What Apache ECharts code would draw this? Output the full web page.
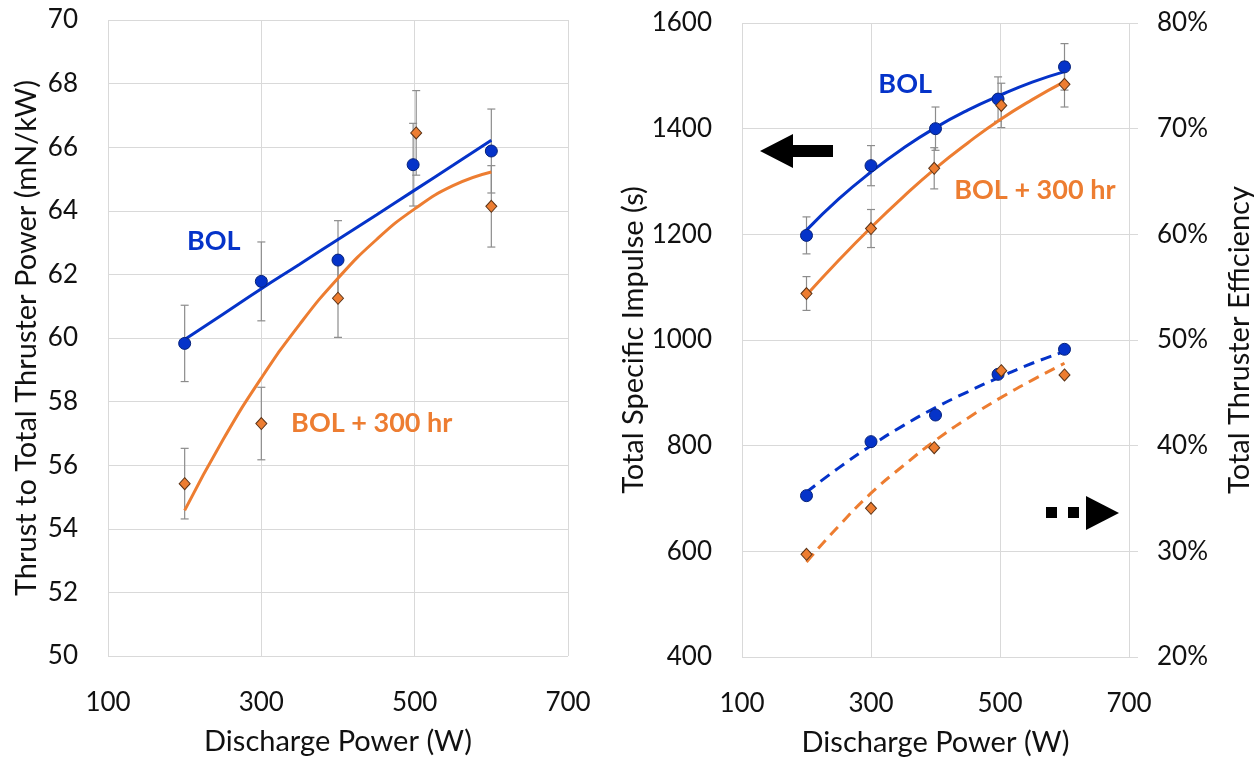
<!DOCTYPE html>
<html>
<head>
<meta charset="utf-8">
<script src="https://cdn.jsdelivr.net/npm/echarts@6/dist/echarts.min.js"></script>
<style>
html,body{margin:0;padding:0;background:#fff;}
#chart{width:1258px;height:757px;}
</style>
</head>
<body>
<div id="chart"></div>
<script>
// ---------- Data ----------
const xTicks = [100, 300, 500, 700];
const trendPower = [200, 250, 300, 350, 400, 450, 500, 550, 600];

// Left panel: thrust to total thruster power (mN/kW)
const powerBOL = [200, 300, 400, 498, 600];
const powerAged = [200, 300, 400, 502, 600];
const thrustBOL = [59.83, 61.78, 62.45, 65.45, 65.88];
const thrustBOLErr = [1.2, 1.24, 1.24, 1.3, 1.32];
const thrustAged = [55.42, 57.31, 61.25, 66.45, 64.14];
const thrustAgedErr = [1.11, 1.14, 1.23, 1.33, 1.28];
const thrustBOLTrend = [59.95, 60.75, 61.55, 62.32, 63.1, 63.87, 64.65, 65.43, 66.22];
const thrustAgedTrend = [54.58, 56.8, 58.74, 60.43, 61.88, 63.09, 64.06, 64.79, 65.22];

// Right panel: total specific impulse (s)
const powerIspBOL = [200, 300, 400, 497, 600];
const powerIspAged = [200, 300, 398, 502, 600];
const ispBOL = [1198, 1330, 1400, 1456, 1517];
const ispBOLErr = [35, 38, 41, 42, 44];
const ispAged = [1088, 1211, 1325, 1444, 1484];
const ispAgedErr = [32, 36, 39, 42, 43];
const ispBOLTrend = [1208, 1267, 1318, 1363, 1402, 1435, 1463, 1488, 1508];
const ispAgedTrend = [1085, 1151, 1213, 1271, 1325, 1373, 1417, 1455, 1489];

// Right panel: total thruster efficiency (%)
const effBOL = [35.27, 40.38, 42.9, 46.75, 49.12];
const effAged = [29.72, 34.07, 39.81, 47.1, 46.69];
const effBOLTrend = [35.6, 37.9, 40.0, 41.9, 43.6, 45.1, 46.5, 47.8, 48.9];
const effAgedTrend = [29.0, 32.4, 35.5, 38.1, 40.5, 42.6, 44.5, 46.2, 47.8];

// ---------- Styling ----------
const BLUE = '#0533c9';
const ORANGE = '#ed7d31';
const GRID = '#d9d9d9';
const FONT = 'Lato';
const TXT = '#111';

const zip = (xs, ys) => xs.map((x, i) => [x, ys[i]]);
const zipErr = (xs, ys, es) => xs.map((x, i) => [x, ys[i], es[i]]);

function errorBars(xIdx, yIdx, data) {
  return {
    type: 'custom', xAxisIndex: xIdx, yAxisIndex: yIdx, z: 1, silent: true,
    renderItem: function (params, api) {
      const x = api.value(0), y = api.value(1), e = api.value(2);
      const top = api.coord([x, y + e]);
      const bot = api.coord([x, y - e]);
      const cap = 4;
      const st = { stroke: '#8c8c8c', lineWidth: 1.2 };
      return { type: 'group', children: [
        { type: 'line', shape: { x1: top[0], y1: top[1], x2: bot[0], y2: bot[1] }, style: st },
        { type: 'line', shape: { x1: top[0] - cap, y1: top[1], x2: top[0] + cap, y2: top[1] }, style: st },
        { type: 'line', shape: { x1: bot[0] - cap, y1: bot[1], x2: bot[0] + cap, y2: bot[1] }, style: st }
      ]};
    },
    encode: { x: 0, y: 1 },
    data: data
  };
}
function trend(xIdx, yIdx, ys, color, dashed) {
  return {
    type: 'line', xAxisIndex: xIdx, yAxisIndex: yIdx, z: 2, silent: true,
    data: zip(trendPower, ys), smooth: 0.5, showSymbol: false, symbol: 'none',
    lineStyle: { color: color, width: 3, type: dashed ? [11, 7] : 'solid', cap: 'butt', opacity: 1 }
  };
}
function pts(xIdx, yIdx, xs, ys, kind) {
  const blue = kind === 'blue';
  return {
    type: 'scatter', xAxisIndex: xIdx, yAxisIndex: yIdx, z: 5, silent: true,
    symbol: blue ? 'circle' : 'diamond', symbolSize: blue ? 12 : [11, 12],
    itemStyle: blue ? { color: BLUE, borderColor: '#06227a', borderWidth: 1, opacity: 1 }
                    : { color: ORANGE, borderColor: '#5b3317', borderWidth: 1, opacity: 1 },
    data: zip(xs, ys)
  };
}
function note(xIdx, yIdx, x, y, text, color) {
  return {
    type: 'scatter', xAxisIndex: xIdx, yAxisIndex: yIdx, z: 6, silent: true,
    symbol: 'circle', symbolSize: 1, itemStyle: { color: 'rgba(0,0,0,0)', opacity: 1 },
    label: { show: true, position: 'inside', formatter: text, color: color, opacity: 1,
             fontFamily: FONT, fontWeight: 'bold', fontSize: 27 },
    data: [[x, y]]
  };
}

const axisLabel = { fontFamily: FONT, fontSize: 26, color: TXT };
const nameStyle = { fontFamily: FONT, fontSize: 29, color: TXT };
const split = { show: true, lineStyle: { color: GRID, width: 1 } };

function xAxisFor(gridIndex) {
  return {
    type: 'value', gridIndex: gridIndex, min: 100, max: 700, interval: 200,
    name: 'Discharge Power (W)', nameLocation: 'middle', nameGap: 71, nameTextStyle: nameStyle,
    axisLine: { show: false }, axisTick: { show: false },
    axisLabel: Object.assign({ margin: 34, customValues: xTicks }, axisLabel),
    splitLine: split
  };
}

const chart = echarts.init(document.getElementById('chart'), null, { renderer: 'canvas' });
chart.setOption({
  backgroundColor: '#fff',
  animation: false,
  grid: [
    { left: 108, top: 20, width: 460, height: 636, containLabel: false, outerBoundsMode: 'none' },
    { left: 742, top: 23, width: 387, height: 634, containLabel: false, outerBoundsMode: 'none' }
  ],
  xAxis: [xAxisFor(0), xAxisFor(1)],
  yAxis: [
    { type: 'value', gridIndex: 0, min: 50, max: 70, interval: 2,
      name: 'Thrust to Total Thruster Power (mN/kW)', nameLocation: 'middle', nameGap: 67, nameTextStyle: nameStyle,
      axisLine: { show: false }, axisTick: { show: false },
      axisLabel: Object.assign({ margin: 30 }, axisLabel), splitLine: split },
    { type: 'value', gridIndex: 1, min: 400, max: 1600, interval: 200,
      name: 'Total Specific Impulse (s)', nameLocation: 'middle', nameGap: 86, nameTextStyle: nameStyle,
      axisLine: { show: false }, axisTick: { show: false },
      axisLabel: Object.assign({ margin: 30, formatter: function (v) { return String(v); } }, axisLabel),
      splitLine: split },
    { type: 'value', gridIndex: 1, position: 'right', min: 20, max: 80, interval: 10,
      name: 'Total Thruster Efficiency', nameLocation: 'middle', nameGap: 96, nameRotate: 90, nameTextStyle: nameStyle,
      axisLine: { show: false },
      axisTick: { show: true, length: 9, lineStyle: { color: GRID } },
      axisLabel: Object.assign({ margin: 28, formatter: '{value}%' }, axisLabel), splitLine: { show: false } }
  ],
  series: [
    // Left panel
    errorBars(0, 0, zipErr(powerBOL, thrustBOL, thrustBOLErr)),
    errorBars(0, 0, zipErr(powerAged, thrustAged, thrustAgedErr)),
    trend(0, 0, thrustBOLTrend, BLUE, false),
    trend(0, 0, thrustAgedTrend, ORANGE, false),
    pts(0, 0, powerBOL, thrustBOL, 'blue'),
    pts(0, 0, powerAged, thrustAged, 'orange'),
    note(0, 0, 238, 63.05, 'BOL', BLUE),
    note(0, 0, 444, 57.33, 'BOL + 300 hr', ORANGE),
    // Right panel - Isp
    errorBars(1, 1, zipErr(powerIspBOL, ispBOL, ispBOLErr)),
    errorBars(1, 1, zipErr(powerIspAged, ispAged, ispAgedErr)),
    trend(1, 1, ispBOLTrend, BLUE, false),
    trend(1, 1, ispAgedTrend, ORANGE, false),
    pts(1, 1, powerIspBOL, ispBOL, 'blue'),
    pts(1, 1, powerIspAged, ispAged, 'orange'),
    // Right panel - efficiency
    trend(1, 2, effBOLTrend, BLUE, true),
    trend(1, 2, effAgedTrend, ORANGE, true),
    pts(1, 2, powerIspBOL, effBOL, 'blue'),
    pts(1, 2, powerIspAged, effAged, 'orange'),
    note(1, 1, 353, 1484, 'BOL', BLUE),
    note(1, 1, 554, 1284, 'BOL + 300 hr', ORANGE)
  ],
  graphic: [
    // left-pointing arrow (Isp axis)
    { type: 'polygon', silent: true, z: 10,
      shape: { points: [[760, 151], [793, 134], [793, 145], [833, 145], [833, 157], [793, 157], [793, 168]] },
      style: { fill: '#000' } },
    // dotted right-pointing arrow (efficiency axis)
    { type: 'rect', silent: true, z: 10, shape: { x: 1046, y: 507, width: 11, height: 11 }, style: { fill: '#000' } },
    { type: 'rect', silent: true, z: 10, shape: { x: 1068, y: 507, width: 11, height: 11 }, style: { fill: '#000' } },
    { type: 'polygon', silent: true, z: 10,
      shape: { points: [[1086, 496], [1119, 513], [1086, 530]] }, style: { fill: '#000' } }
  ]
});
</script>
</body>
</html>
